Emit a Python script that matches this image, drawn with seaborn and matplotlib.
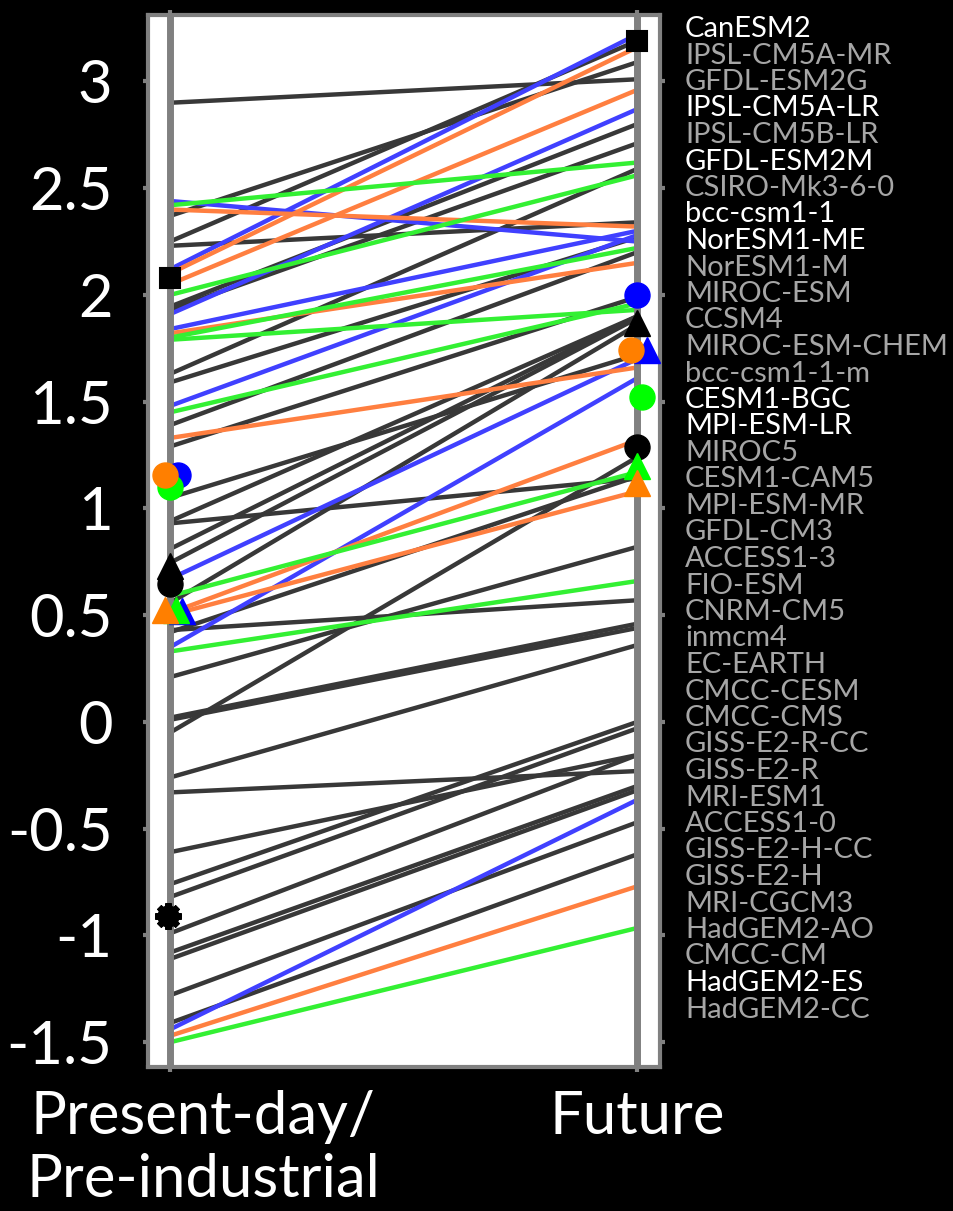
import numpy as np
import pandas as pd
import matplotlib
matplotlib.use('Agg')
import matplotlib.pyplot as plt
import matplotlib.transforms as mtransforms
import seaborn as sns

# end points of every model line (Present-day/Pre-industrial -> Future)
gray_present = [2.90, 2.37, 2.25, 2.23, 1.945, 1.93, 1.63, 1.59, 1.39, 1.29, 1.05, 0.94,
                0.93, 0.81, 0.745, 0.557, 0.42, 0.43, 0.21, 0.02, 0.01, -0.05, -0.26,
                -0.33, -0.61, -0.76, -0.82, -0.99, -1.08, -1.11, -1.28, -1.41]
gray_future = [3.01, 3.09, 3.19, 2.34, 2.80, 2.71, 2.59, 2.27, 2.20, 1.99, 1.72, 1.90,
               1.14, 1.90, 1.89, 1.86, 1.15, 0.57, 0.82, 0.46, 0.44, 1.24, 0.36,
               -0.23, -0.155, 0.00, -0.03, -0.155, -0.30, -0.32, -0.47, -0.62]

blue_present = [2.44, 2.12, 1.91, 1.84, 1.48, 0.67, 0.35, -1.44]
blue_future = [2.25, 3.22, 2.87, 2.30, 2.28, 1.70, 1.61, -0.365]

orange_present = [2.40, 2.10, 2.05, 1.82, 1.33, 0.51, 0.50, -1.47]
orange_future = [2.32, 3.16, 2.96, 2.15, 1.66, 1.32, 1.08, -0.77]

green_present = [2.42, 2.00, 1.80, 1.79, 1.45, 0.59, 0.33, -1.50]
green_future = [2.62, 2.56, 2.22, 1.93, 1.96, 1.17, 0.66, -0.965]

# summary markers
marker_period = [0.0, 0.017, 0.0, -0.011, 0.0, 0.0, 0.025, 0.012, -0.011, -0.005,
                 1.0, 1.0, 1.0, 1.021, 0.987, 1.01, 1.0, 1.0, 1.0]
marker_value = [2.08, 1.157, 1.10, 1.155, 0.73, 0.645, 0.52, 0.525, 0.525, -0.91,
                3.19, 2.00, 1.87, 1.74, 1.74, 1.52, 1.29, 1.20, 1.12]
marker_kind = ['s', 'o', 'o', 'o', '^', 'o', '^', '^', '^', 'gear',
               's', 'o', '^', '^', 'o', 'o', 'o', '^', '^']
marker_col = ['black', '#0000ff', '#00ff00', '#ff7f00', 'black', 'black', '#0000ff', '#00ff00',
              '#ff7f00', 'black',
              'black', '#0000ff', 'black', '#0000ff', '#ff7f00', '#00ff00', 'black', '#00ff00',
              '#ff7f00']

models = ['CanESM2', 'IPSL-CM5A-MR', 'GFDL-ESM2G', 'IPSL-CM5A-LR', 'IPSL-CM5B-LR',
          'GFDL-ESM2M', 'CSIRO-Mk3-6-0', 'bcc-csm1-1', 'NorESM1-ME', 'NorESM1-M',
          'MIROC-ESM', 'CCSM4', 'MIROC-ESM-CHEM', 'bcc-csm1-1-m', 'CESM1-BGC',
          'MPI-ESM-LR', 'MIROC5', 'CESM1-CAM5', 'MPI-ESM-MR', 'GFDL-CM3', 'ACCESS1-3',
          'FIO-ESM', 'CNRM-CM5', 'inmcm4', 'EC-EARTH', 'CMCC-CESM', 'CMCC-CMS',
          'GISS-E2-R-CC', 'GISS-E2-R', 'MRI-ESM1', 'ACCESS1-0', 'GISS-E2-H-CC',
          'GISS-E2-H', 'MRI-CGCM3', 'HadGEM2-AO', 'CMCC-CM', 'HadGEM2-ES', 'HadGEM2-CC']
highlighted = ['CanESM2', 'IPSL-CM5A-LR', 'GFDL-ESM2M', 'bcc-csm1-1', 'NorESM1-ME',
               'CESM1-BGC', 'MPI-ESM-LR', 'HadGEM2-ES']

ytick_vals = [-1.5, -1, -0.5, 0, 0.5, 1, 1.5, 2, 2.5, 3]
ytick_text = ['-1.5', '-1', '-0.5', '0', '0.5', '1', '1.5', '2', '2.5', '3']
xtick_text = ['Present-day/\nPre-industrial', 'Future']


def build_long(groups):
    rows = []
    for name, pres, fut in groups:
        for i, (a, b) in enumerate(zip(pres, fut)):
            rows.append({'group': name, 'line': f'{name}{i}', 'period': 0, 'value': a})
            rows.append({'group': name, 'line': f'{name}{i}', 'period': 1, 'value': b})
    return pd.DataFrame(rows)


df = build_long([('gray', gray_present, gray_future),
                 ('blue', blue_present, blue_future),
                 ('orange', orange_present, orange_future),
                 ('green', green_present, green_future)])

sns.set_theme(style='white')
plt.rcParams['font.family'] = ['Lato', 'DejaVu Sans']

W, H = 954, 1211
fig = plt.figure(figsize=(W / 100, H / 100), dpi=100, facecolor='black')
ax = fig.add_axes([148 / W, 1 - 1067 / H, 512 / W, 1052 / H])
ax.set_facecolor('white')

palette = {'gray': '#383838', 'blue': '#4040ff', 'orange': '#ff7f40', 'green': '#33f033'}
sns.lineplot(data=df, x='period', y='value', hue='group', units='line', estimator=None,
             hue_order=['gray', 'blue', 'orange', 'green'], palette=palette,
             linewidth=3.2, legend=False, ax=ax, zorder=2)

ax.axvline(0, color='#808080', lw=5, zorder=3)
ax.axvline(1, color='#808080', lw=5, zorder=3)

for px, py, k, c in zip(marker_period, marker_value, marker_kind, marker_col):
    if k == 'gear':
        ax.plot(px, py, marker='o', ms=15, color=c, zorder=5, clip_on=False)
        ax.plot(px, py, marker=(8, 2, 0), ms=19, mew=4.5, color=c, zorder=5, clip_on=False)
    elif k == 's':
        ax.plot(px, py, marker='s', ms=14, color=c, mec=c, mew=1.5, zorder=5, clip_on=False)
    elif k == '^':
        ax.plot(px, py, marker='^', ms=19, color=c, mec=c, zorder=5, clip_on=False)
    else:
        ax.plot(px, py, marker='o', ms=18, color=c, mec=c, zorder=5, clip_on=False)

ax.set_xlim(-0.0471, 1.049)
ax.set_ylim(-1.616, 3.311)
ax.set_xticks([0, 1])
ax.set_xticklabels(xtick_text, linespacing=1.2)
ax.set_yticks(ytick_vals)
ax.set_yticklabels(ytick_text)
ax.set_xlabel('')
ax.set_ylabel('')

for s in ax.spines.values():
    s.set_visible(True)
    s.set_color('#808080')
    s.set_linewidth(3)

ax.tick_params(axis='both', direction='out', length=3.6, width=3, color='#808080',
               labelcolor='white', labelsize=43, top=True, right=True,
               left=True, bottom=True)
ax.tick_params(axis='y', pad=22)
ax.tick_params(axis='x', pad=13)

# the left category label sits a bit right of its tick
shift = mtransforms.ScaledTranslation(0.33, 0, fig.dpi_scale_trans)
lab0 = ax.get_xticklabels()[0]
lab0.set_transform(lab0.get_transform() + shift)

for i, name in enumerate(models):
    col = 'white' if name in highlighted else '#a6a6a6'
    fig.text(685 / W, 1 - (29 + 26.5 * i) / H, name, color=col, fontsize=21,
             ha='left', va='center')

fig.savefig('out.png', dpi=100, facecolor='black')
